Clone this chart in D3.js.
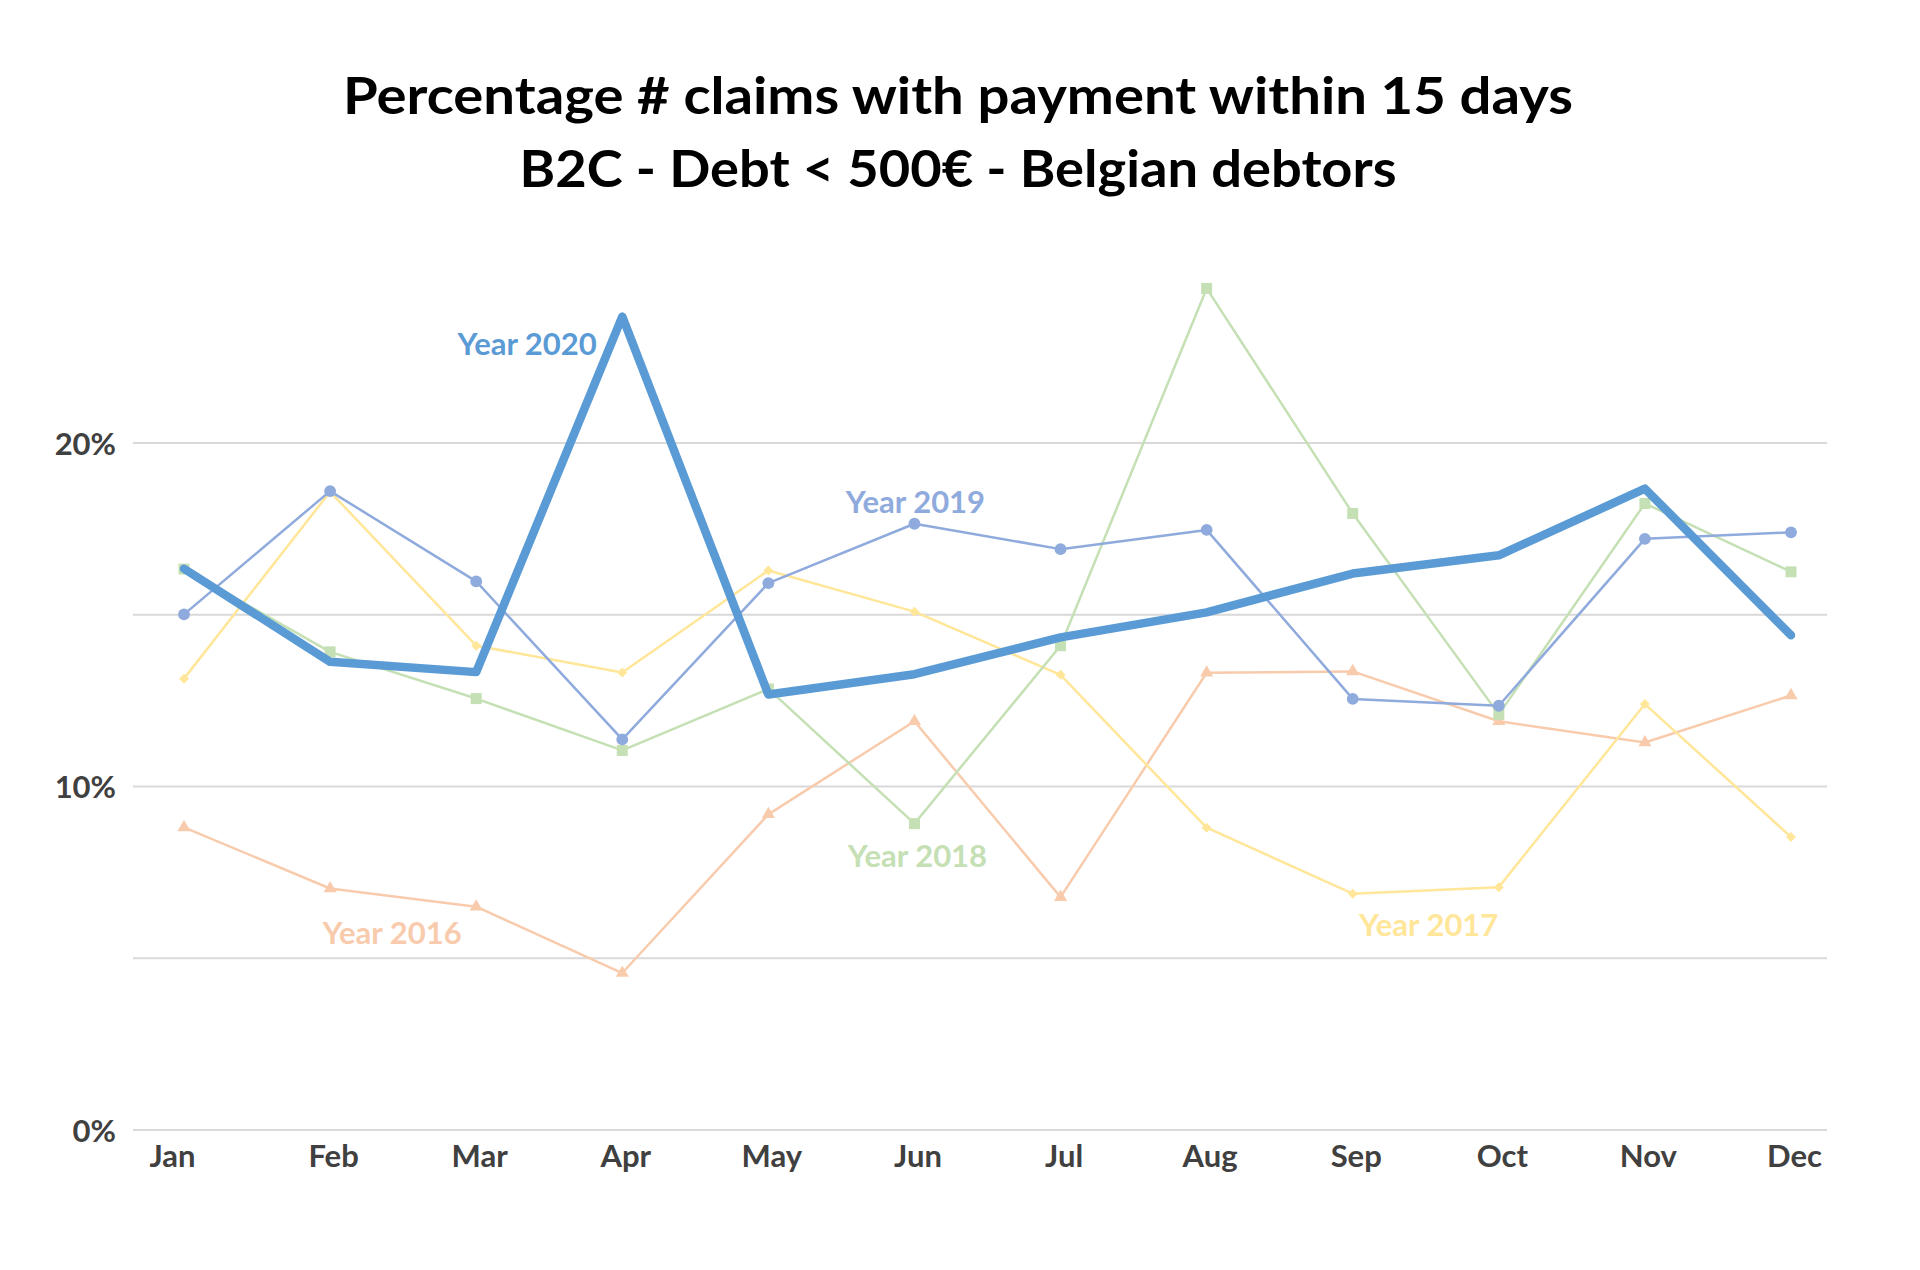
<!DOCTYPE html>
<html>
<head>
<meta charset="utf-8">
<script src="https://cdn.jsdelivr.net/npm/d3@7"></script>
<style>
  body { margin: 0; background: #fff; }
  svg { display: block; }
</style>
</head>
<body>
<script>
// chart values (percent)
const months = ["Jan", "Feb", "Mar", "Apr", "May", "Jun", "Jul", "Aug", "Sep", "Oct", "Nov", "Dec"];
const years = ["Year 2016", "Year 2017", "Year 2018", "Year 2019", "Year 2020"];
const y2016 = [8.81, 7.03, 6.50, 4.57, 9.19, 11.90, 6.78, 13.31, 13.35, 11.90, 11.28, 12.65];
const y2017 = [13.14, 18.58, 14.10, 13.32, 16.29, 15.09, 13.25, 8.80, 6.88, 7.07, 12.40, 8.53];
const y2018 = [16.33, 13.92, 12.56, 11.05, 12.84, 8.92, 14.10, 24.50, 17.95, 12.10, 18.24, 16.25];
const y2019 = [15.01, 18.60, 15.97, 11.37, 15.92, 17.65, 16.91, 17.47, 12.55, 12.35, 17.21, 17.40];
const y2020 = [16.34, 13.63, 13.33, 23.68, 12.68, 13.27, 14.34, 15.07, 16.20, 16.73, 18.67, 14.40];
const yTicks = [0, 5, 10, 15, 20];
const yTickLabels = ["0%", "", "10%", "", "20%"];
const title = ["Percentage # claims with payment within 15 days", "B2C - Debt < 500€ - Belgian debtors"];

const width = 1920, height = 1270;
const font = "Lato, 'Open Sans', sans-serif";

const x = d3.scalePoint().domain(months).range([184, 1791]);
const y = d3.scaleLinear().domain([0, 20]).range([1130, 443]);

const series = [
  {name: years[0], values: y2016, color: "#F8CBAD", width: 2.5, symbol: d3.symbolTriangle, size: 75, rotate: 0},
  {name: years[1], values: y2017, color: "#FFE699", width: 2.5, symbol: d3.symbolSquare, size: 50, rotate: 45},
  {name: years[2], values: y2018, color: "#C5E0B4", width: 2.5, symbol: d3.symbolSquare, size: 121, rotate: 0},
  {name: years[3], values: y2019, color: "#8FAADC", width: 2.5, symbol: d3.symbolCircle, size: 110, rotate: 0},
  {name: years[4], values: y2020, color: "#5B9BD5", width: 8.5, symbol: null}
];

// where the series names sit (month anchor + pixel shift, value on the y scale)
const seriesLabels = [
  {i: 4, month: "Mar", dx: 51, v: 22.88},
  {i: 3, month: "Jun", dx: 1, v: 18.28},
  {i: 2, month: "Jun", dx: 3, v: 7.98},
  {i: 1, month: "Sep", dx: 76, v: 5.98},
  {i: 0, month: "Feb", dx: 62, v: 5.74}
];

const svg = d3.select("body").append("svg")
    .attr("width", width)
    .attr("height", height)
    .attr("font-family", font);

svg.append("rect").attr("width", width).attr("height", height).attr("fill", "#fff");

// title
const titleText = svg.append("g")
    .attr("font-weight", "bold")
    .attr("font-size", 52)
    .attr("text-anchor", "middle")
  .selectAll("text")
  .data(title)
  .join("text")
    .attr("x", 958)
    .attr("y", (d, i) => 114 + i * 73)
    .attr("fill", "#000")
    .text(d => d);

// fit title lines to the widths in the picture
const titleWidths = [1230, 877];
titleText.each(function(d, i) {
  const len = this.getComputedTextLength();
  if (Math.abs(len - titleWidths[i]) / titleWidths[i] > 0.02) {
    d3.select(this).attr("textLength", titleWidths[i]).attr("lengthAdjust", "spacingAndGlyphs");
  }
});

// gridlines
svg.append("g")
  .selectAll("line")
  .data(yTicks)
  .join("line")
    .attr("x1", 133)
    .attr("x2", 1827)
    .attr("y1", d => y(d))
    .attr("y2", d => y(d))
    .attr("stroke", "#D9D9D9")
    .attr("stroke-width", 2.2);

// y axis labels
svg.append("g")
    .attr("transform", "translate(116,0)")
    .call(d3.axisLeft(y).tickValues(yTicks).tickSize(0).tickPadding(0)
      .tickFormat((d, i) => yTickLabels[i]))
    .call(g => g.select(".domain").remove())
    .call(g => g.selectAll("text")
      .attr("font-family", font)
      .attr("font-weight", "bold")
      .attr("font-size", 31)
      .attr("fill", "#404040")
      .attr("dy", "0.36em"));

// x axis labels (first one sits a bit left of its point, as in excel)
svg.append("g")
    .attr("transform", "translate(0,1138)")
    .call(d3.axisBottom(x).tickSize(0).tickPadding(0))
    .call(g => g.select(".domain").remove())
    .call(g => g.selectAll("text")
      .attr("font-family", font)
      .attr("font-weight", "bold")
      .attr("font-size", 31)
      .attr("fill", "#404040")
      .attr("dx", d => d === "Jan" ? -12 : 3)
      .attr("dy", "0.95em"));

const line = d3.line()
    .x((d, i) => x(months[i]))
    .y(d => y(d));

// lines + markers, 2020 drawn last
const sg = svg.append("g")
  .selectAll("g")
  .data(series)
  .join("g");

sg.append("path")
    .attr("fill", "none")
    .attr("stroke", d => d.color)
    .attr("stroke-width", d => d.width)
    .attr("stroke-linejoin", "round")
    .attr("stroke-linecap", "round")
    .attr("d", d => line(d.values));

sg.filter(d => d.symbol)
  .selectAll(".mark")
  .data(d => d.values.map((v, i) => ({v, i, s: d})))
  .join("path")
    .attr("class", "mark")
    .attr("transform", d => `translate(${x(months[d.i])},${y(d.v)}) rotate(${d.s.rotate})`)
    .attr("d", d => d3.symbol(d.s.symbol, d.s.size)())
    .attr("fill", d => d.s.color);

// series names
svg.append("g")
    .attr("font-weight", "bold")
    .attr("font-size", 31)
    .attr("text-anchor", "middle")
  .selectAll("text")
  .data(seriesLabels)
  .join("text")
    .attr("x", d => x(d.month) + d.dx)
    .attr("y", d => y(d.v))
    .attr("dy", "0.36em")
    .attr("fill", d => series[d.i].color)
    .text(d => series[d.i].name);
</script>
</body>
</html>
